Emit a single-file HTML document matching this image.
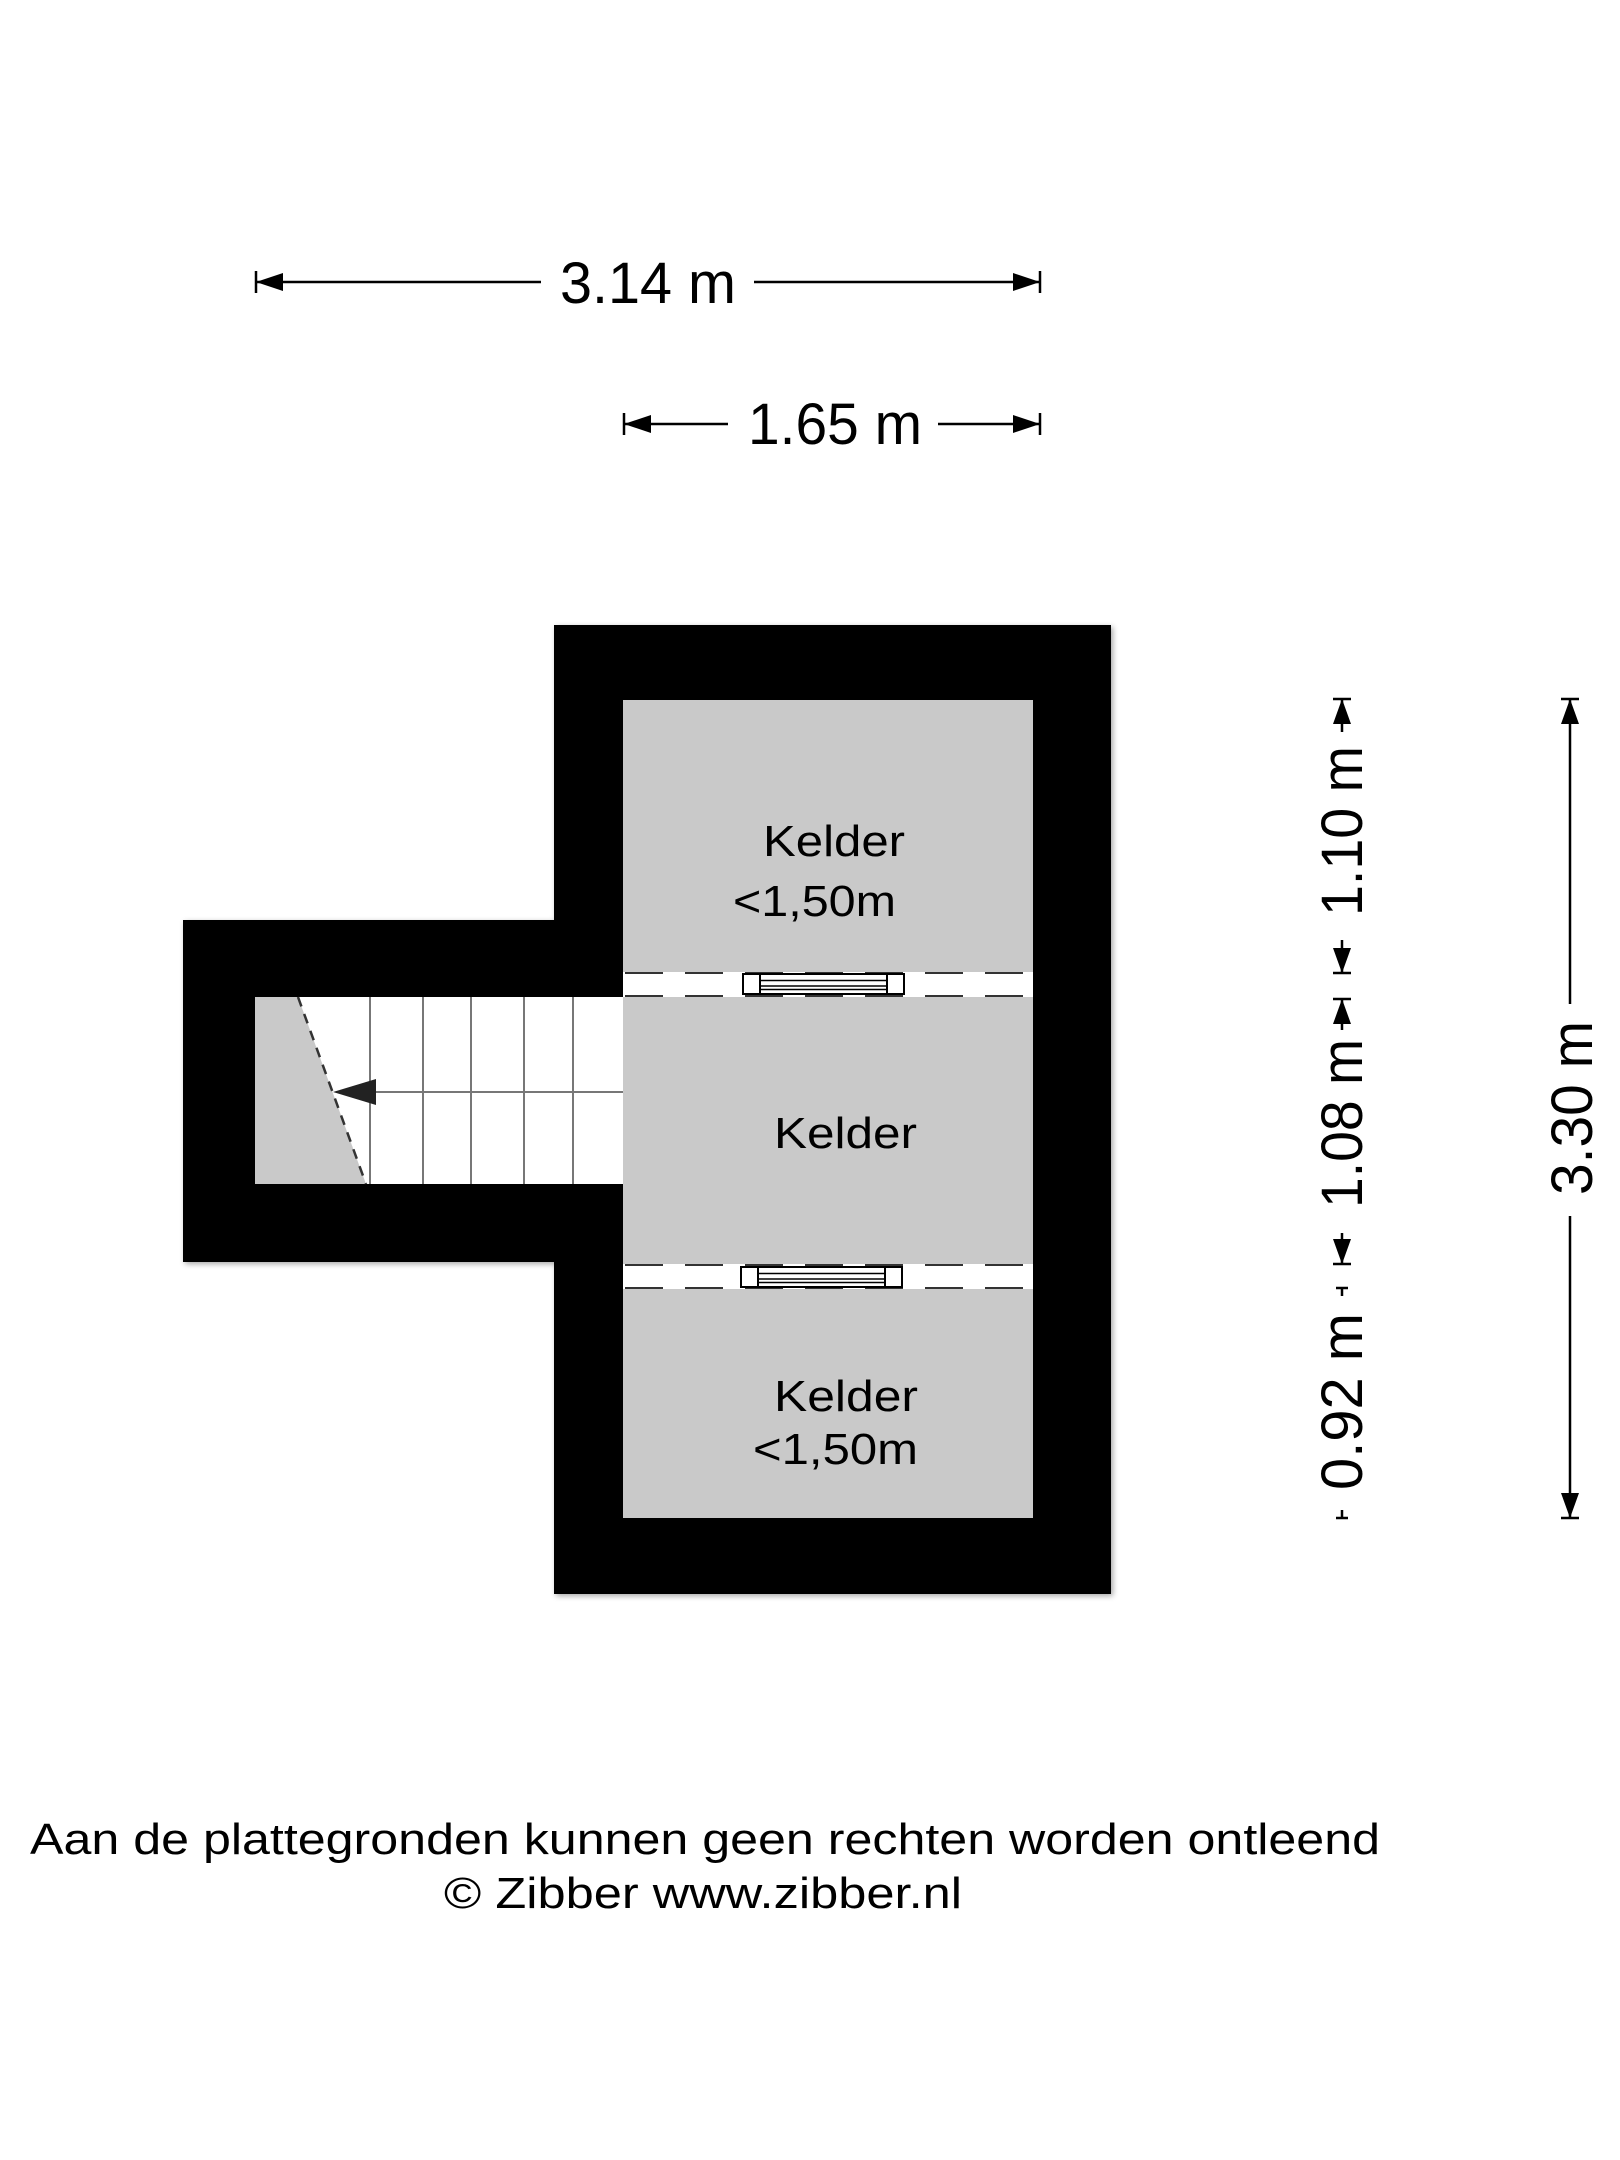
<!DOCTYPE html>
<html><head><meta charset="utf-8"><style>
html,body{margin:0;padding:0;background:#fff;}
svg{display:block;}
text{font-family:"Liberation Sans",Arial,sans-serif;fill:#000;}
</style></head><body>
<svg width="1620" height="2160" viewBox="0 0 1620 2160" xmlns="http://www.w3.org/2000/svg">
<defs>
<filter id="sh" x="-5%" y="-5%" width="110%" height="110%"><feGaussianBlur in="SourceAlpha" stdDeviation="3"/><feOffset dx="2" dy="2"/><feComponentTransfer><feFuncA type="linear" slope="0.35"/></feComponentTransfer><feMerge><feMergeNode/><feMergeNode in="SourceGraphic"/></feMerge></filter>
</defs>
<rect width="1620" height="2160" fill="#fff"/>

<!-- walls -->
<g filter="url(#sh)">
<rect x="554" y="625" width="557" height="969" fill="#000"/>
<rect x="183" y="920" width="380" height="342" fill="#000"/>
</g>

<!-- rooms -->
<rect x="623" y="700" width="410" height="272" fill="#c9c9c9"/>
<rect x="623" y="997" width="410" height="267" fill="#c9c9c9"/>
<rect x="623" y="1289" width="410" height="229" fill="#c9c9c9"/>

<!-- door strips -->
<rect x="623" y="972" width="410" height="25" fill="#fff"/>
<rect x="623" y="1264" width="410" height="25" fill="#fff"/>
<g stroke="#333" stroke-width="2" stroke-dasharray="38 22" stroke-dashoffset="-2">
<line x1="623" y1="973" x2="1033" y2="973"/>
<line x1="623" y1="996" x2="1033" y2="996"/>
<line x1="623" y1="1265" x2="1033" y2="1265"/>
<line x1="623" y1="1288" x2="1033" y2="1288"/>
</g>
<g fill="#fff" stroke="#000" stroke-width="2">
<rect x="743" y="974" width="161" height="20"/>
<line x1="760" y1="974" x2="760" y2="994"/>
<line x1="887" y1="974" x2="887" y2="994"/>
<line x1="760" y1="980.5" x2="887" y2="980.5" stroke-width="1.5"/>
<line x1="760" y1="986" x2="887" y2="986" stroke-width="1.5"/>
<line x1="760" y1="989.5" x2="887" y2="989.5" stroke-width="1.5"/>
<rect x="741" y="1267" width="161" height="20"/>
<line x1="758" y1="1267" x2="758" y2="1287"/>
<line x1="885" y1="1267" x2="885" y2="1287"/>
<line x1="758" y1="1273.5" x2="885" y2="1273.5" stroke-width="1.5"/>
<line x1="758" y1="1279" x2="885" y2="1279" stroke-width="1.5"/>
<line x1="758" y1="1282.5" x2="885" y2="1282.5" stroke-width="1.5"/>
</g>

<!-- stairs -->
<rect x="255" y="997" width="368" height="187" fill="#fff"/>
<polygon points="255,997 298,997 366,1184 255,1184" fill="#c9c9c9"/>
<line x1="298" y1="997" x2="366" y2="1184" stroke="#333" stroke-width="2.5" stroke-dasharray="10 8"/>
<g stroke="#777" stroke-width="2">
<line x1="370" y1="997" x2="370" y2="1184"/>
<line x1="423" y1="997" x2="423" y2="1184"/>
<line x1="471" y1="997" x2="471" y2="1184"/>
<line x1="524" y1="997" x2="524" y2="1184"/>
<line x1="573" y1="997" x2="573" y2="1184"/>
<line x1="376" y1="1092" x2="623" y2="1092"/>
</g>
<polygon points="333,1092 376,1079 376,1105" fill="#222"/>

<!-- room labels -->
<text x="763" y="856" font-size="44" textLength="142" lengthAdjust="spacingAndGlyphs">Kelder</text>
<text x="733" y="916" font-size="44" textLength="163" lengthAdjust="spacingAndGlyphs">&lt;1,50m</text>
<text x="774" y="1148" font-size="44" textLength="143" lengthAdjust="spacingAndGlyphs">Kelder</text>
<text x="774" y="1411" font-size="44" textLength="144" lengthAdjust="spacingAndGlyphs">Kelder</text>
<text x="753" y="1464" font-size="44" textLength="165" lengthAdjust="spacingAndGlyphs">&lt;1,50m</text>

<!-- top dimensions -->
<g stroke="#000" stroke-width="2.5" fill="none">
<line x1="256" y1="282" x2="541" y2="282"/>
<line x1="754" y1="282" x2="1040" y2="282"/>
<line x1="256" y1="271" x2="256" y2="293"/>
<line x1="1040" y1="271" x2="1040" y2="293"/>
<line x1="624" y1="424" x2="728" y2="424"/>
<line x1="938" y1="424" x2="1040" y2="424"/>
<line x1="624" y1="413" x2="624" y2="435"/>
<line x1="1040" y1="413" x2="1040" y2="435"/>
</g>
<g fill="#000">
<polygon points="256,282 283,273 283,291"/>
<polygon points="1040,282 1013,273 1013,291"/>
<polygon points="624,424 651,415 651,433"/>
<polygon points="1040,424 1013,415 1013,433"/>
</g>
<text x="560" y="303" font-size="58" textLength="176" lengthAdjust="spacingAndGlyphs">3.14 m</text>
<text x="748" y="444" font-size="58" textLength="174" lengthAdjust="spacingAndGlyphs">1.65 m</text>

<!-- right dimensions -->
<g stroke="#000" stroke-width="2.5" fill="none">
<line x1="1342" y1="699" x2="1342" y2="732"/>
<line x1="1342" y1="940" x2="1342" y2="973"/>
<line x1="1333" y1="699" x2="1351" y2="699"/>
<line x1="1333" y1="973" x2="1351" y2="973"/>
<line x1="1342" y1="999" x2="1342" y2="1030"/>
<line x1="1342" y1="1233" x2="1342" y2="1264"/>
<line x1="1333" y1="999" x2="1351" y2="999"/>
<line x1="1333" y1="1264" x2="1351" y2="1264"/>
<line x1="1342" y1="1288" x2="1342" y2="1296"/>
<line x1="1342" y1="1510" x2="1342" y2="1518"/>
<line x1="1336" y1="1288" x2="1348" y2="1288"/>
<line x1="1336" y1="1518" x2="1348" y2="1518"/>
<line x1="1570" y1="699" x2="1570" y2="1004"/>
<line x1="1570" y1="1216" x2="1570" y2="1518"/>
<line x1="1561" y1="699" x2="1579" y2="699"/>
<line x1="1561" y1="1518" x2="1579" y2="1518"/>
</g>
<g fill="#000">
<polygon points="1342,699 1333,724 1351,724"/>
<polygon points="1342,973 1333,948 1351,948"/>
<polygon points="1342,999 1333,1024 1351,1024"/>
<polygon points="1342,1264 1333,1239 1351,1239"/>
<polygon points="1570,699 1561,724 1579,724"/>
<polygon points="1570,1518 1561,1493 1579,1493"/>
</g>
<text transform="translate(1362,916) rotate(-90)" font-size="58" textLength="170" lengthAdjust="spacingAndGlyphs">1.10 m</text>
<text transform="translate(1362,1208) rotate(-90)" font-size="58" textLength="169" lengthAdjust="spacingAndGlyphs">1.08 m</text>
<text transform="translate(1362,1490) rotate(-90)" font-size="58" textLength="177" lengthAdjust="spacingAndGlyphs">0.92 m</text>
<text transform="translate(1592,1195) rotate(-90)" font-size="58" textLength="174" lengthAdjust="spacingAndGlyphs">3.30 m</text>

<!-- footer -->
<text x="30" y="1854" font-size="44" textLength="1350" lengthAdjust="spacingAndGlyphs">Aan de plattegronden kunnen geen rechten worden ontleend</text>
<text x="444" y="1908" font-size="44" textLength="518" lengthAdjust="spacingAndGlyphs">© Zibber www.zibber.nl</text>
</svg>
</body></html>
